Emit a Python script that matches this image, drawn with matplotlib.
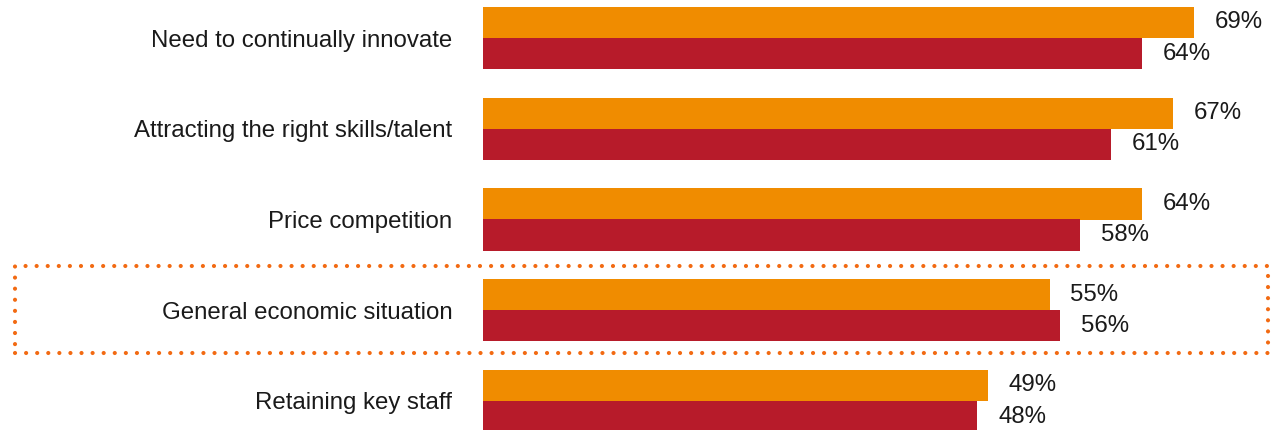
import matplotlib
matplotlib.use("Agg")
import matplotlib.pyplot as plt
from matplotlib.patches import Rectangle

plt.rcParams["font.family"] = ["Liberation Sans", "DejaVu Sans"]

categories = ["Need to continually innovate", "Attracting the right skills/talent",
              "Price competition", "General economic situation", "Retaining key staff"]
series_a = [69, 67, 64, 55, 49]   # orange, top bar
series_b = [64, 61, 58, 56, 48]   # red, bottom bar

ORANGE = "#F08C00"; RED = "#B71B2A"; INK = "#1A1A1A"; DOT = "#F26A12"
W, H = 1278, 430
FS = 17.3

fig = plt.figure(figsize=(W/100, H/100), dpi=100)
fig.patch.set_facecolor("white")
ax = fig.add_axes([483/W, 0, 1 - 483/W, 1])
bh = 0.342
ys = list(range(len(categories)))
ax.barh([y - bh/2 for y in ys], series_a, height=bh, color=ORANGE, align="center")
ax.barh([y + bh/2 for y in ys], series_b, height=bh, color=RED, align="center")

for y, a, b in zip(ys, series_a, series_b):
    ax.annotate(f"{a}%", (a, y - bh/2), xytext=(15, 0), textcoords="offset points",
                ha="left", va="center", fontsize=FS, color=INK)
    ax.annotate(f"{b}%", (b, y + bh/2), xytext=(15, 0), textcoords="offset points",
                ha="left", va="center", fontsize=FS, color=INK)

ax.set_xlim(0, (W - 483) / 10.3)
ax.set_ylim(4 + 29/90.75, -38/90.75)
ax.set_yticks(ys)
ax.set_yticklabels(categories, fontsize=FS, color=INK)
ax.tick_params(axis="y", length=0, pad=22)
ax.set_xticks([])
for s in ax.spines.values():
    s.set_visible(False)

box = Rectangle((15/W, 1 - 353/H), 1253/W, 87/H, transform=fig.transFigure,
                fill=False, ec=DOT, lw=3, linestyle=(0, (0.01, 2.65)))
box.set_capstyle("round")
fig.patches.append(box)

fig.savefig("out.png", dpi=100, facecolor="white")
